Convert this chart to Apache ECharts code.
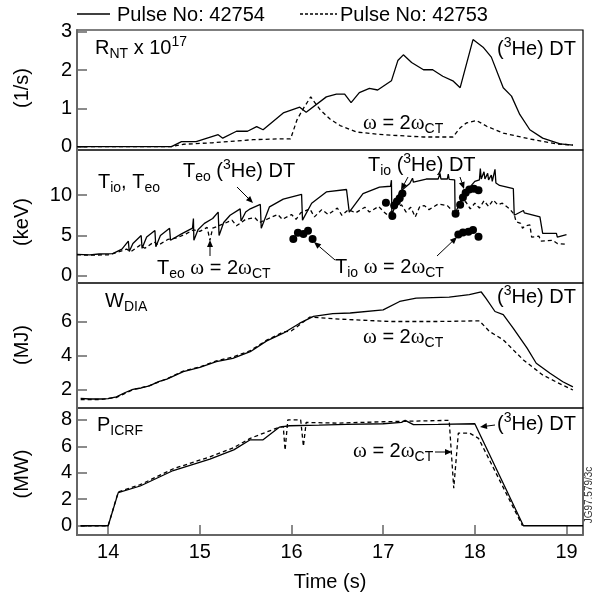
<!DOCTYPE html>
<html>
<head>
<meta charset="utf-8">
<script src="https://cdn.jsdelivr.net/npm/echarts@6/dist/echarts.min.js"></script>
<style>
  html, body { margin: 0; padding: 0; background: #fff; }
  #chart { width: 593px; height: 594px; }
</style>
</head>
<body>
<div id="chart"></div>
<script>
// time ticks (s)
var timeTicks = [14, 15, 16, 17, 18, 19];

// R_NT x 10^17 (1/s)
var rntT54 = [13.66, 14.69, 14.8, 14.96, 15.2, 15.25, 15.4, 15.52, 15.62, 15.69, 15.91, 16.09, 16.16, 16.38, 16.49, 16.58, 16.65, 16.74, 16.85, 16.94, 17.09, 17.16, 17.22, 17.31, 17.44, 17.54, 17.65, 17.76, 17.84, 17.98, 18.09, 18.18, 18.31, 18.4, 18.49, 18.6, 18.74, 18.93, 19.07];
var rnt54 = [0, 0, 0.13, 0.13, 0.31, 0.22, 0.4, 0.4, 0.52, 0.44, 0.88, 1.03, 0.9, 1.3, 1.37, 1.37, 1.15, 1.41, 1.52, 1.48, 1.72, 2.25, 2.4, 2.2, 2.01, 2.01, 1.84, 1.72, 1.54, 2.8, 2.6, 2.34, 1.54, 1.32, 0.84, 0.44, 0.22, 0.07, 0.04];
var rntT53 = [13.66, 14.69, 14.82, 15.14, 15.58, 15.84, 15.99, 16.06, 16.13, 16.21, 16.31, 16.42, 16.53, 16.71, 17.0, 17.44, 17.76, 17.84, 17.91, 18.02, 18.13, 18.31, 18.6, 18.89, 19.07];
var rnt53 = [0, 0, 0.06, 0.1, 0.18, 0.2, 0.2, 0.7, 1.0, 1.3, 0.97, 0.72, 0.55, 0.38, 0.31, 0.25, 0.25, 0.49, 0.62, 0.68, 0.53, 0.35, 0.2, 0.07, 0.04];

// T_eo (keV)
var teT54 = [13.66, 13.8, 13.9, 14.05, 14.15, 14.22, 14.23, 14.27, 14.36, 14.37, 14.42, 14.51, 14.52, 14.57, 14.67, 14.68, 14.8, 14.92, 14.93, 14.935, 14.98, 15.05, 15.14, 15.2, 15.21, 15.26, 15.33, 15.44, 15.45, 15.5, 15.55, 15.66, 15.67, 15.76, 15.91, 16.11, 16.12, 16.22, 16.38, 16.6, 16.63, 16.78, 16.96, 17.08, 17.09, 17.095, 17.18, 17.29, 17.31, 17.32, 17.33, 17.47, 17.6, 17.62, 17.63, 17.7, 17.71, 17.72, 17.78, 17.785, 17.87, 18.0, 18.05, 18.06, 18.07, 18.1, 18.11, 18.14, 18.15, 18.18, 18.19, 18.22, 18.23, 18.27, 18.42, 18.43, 18.53, 18.54, 18.71, 18.74, 18.89, 18.9, 19.0];
var te54 = [2.65, 2.6, 2.7, 2.75, 3.3, 4.3, 3.0, 4.0, 5.0, 3.4, 4.8, 5.6, 3.6, 5.0, 5.9, 4.4, 5.2, 5.9, 7.1, 4.4, 5.7, 6.5, 7.1, 7.9, 5.0, 6.6, 7.5, 8.3, 6.8, 7.9, 8.3, 8.85, 5.9, 8.55, 9.5, 10.1, 6.9, 9.0, 10.4, 10.7, 7.9, 10.2, 11.0, 11.1, 11.86, 7.5, 10.4, 11.45, 11.5, 12.1, 11.6, 12.0, 12.0, 12.7, 12.0, 12.0, 12.6, 11.95, 11.9, 7.7, 10.0, 11.7, 11.9, 13.3, 12.0, 12.9, 12.0, 12.7, 11.9, 12.5, 11.7, 13.2, 11.5, 11.2, 10.8, 7.5, 8.1, 7.8, 7.3, 5.25, 5.25, 4.8, 5.1];
var teT53 = [13.66, 13.8, 14.0, 14.1, 14.2, 14.25, 14.35, 14.4, 14.5, 14.55, 14.65, 14.75, 14.85, 14.93, 15.0, 15.08, 15.11, 15.14, 15.25, 15.35, 15.4, 15.5, 15.6, 15.65, 15.75, 15.85, 15.9, 16.0, 16.05, 16.1, 16.2, 16.25, 16.33, 16.4, 16.5, 16.55, 16.62, 16.7, 16.8, 16.85, 16.95, 17.0, 17.05, 17.12, 17.2, 17.25, 17.3, 17.35, 17.4, 17.45, 17.5, 17.6, 17.7, 17.76, 17.8, 17.85, 17.9, 17.95, 18.0, 18.05, 18.1, 18.15, 18.2, 18.25, 18.3, 18.38, 18.43, 18.45, 18.5, 18.52, 18.55, 18.6, 18.62, 18.7, 18.72, 18.85, 18.9, 19.0];
var te53 = [2.6, 2.55, 2.6, 2.9, 3.3, 3.0, 3.8, 3.4, 4.2, 3.8, 4.5, 4.7, 5.2, 5.7, 5.5, 6.0, 4.4, 5.9, 6.4, 6.9, 6.2, 7.0, 7.2, 6.6, 7.1, 7.6, 7.0, 7.6, 7.0, 7.8, 8.3, 7.3, 8.2, 7.6, 8.4, 7.5, 8.2, 7.8, 8.5, 7.9, 8.6, 8.0, 7.5, 8.4, 8.8, 7.9, 8.5, 7.3, 8.6, 8.7, 8.2, 8.9, 8.7, 8.0, 7.6, 8.8, 9.2, 8.3, 9.0, 8.4, 9.3, 8.6, 9.4, 8.8, 9.0, 8.3, 7.6, 6.7, 6.5, 5.9, 6.2, 6.3, 4.8, 4.9, 4.3, 4.4, 4.0, 3.9];

// T_io dots (keV)
var tiT54 = [17.03, 17.1, 17.12, 17.15, 17.18, 17.21, 17.79, 17.84, 17.87, 17.9, 17.94, 17.99, 18.04];
var ti54 = [9.05, 7.4, 8.7, 9.2, 9.6, 10.2, 7.7, 8.8, 9.7, 10.3, 10.7, 10.8, 10.6];
var tiT53 = [16.02, 16.07, 16.13, 16.18, 16.23, 17.82, 17.87, 17.93, 17.98, 18.04];
var ti53 = [4.55, 5.33, 5.17, 5.58, 4.55, 5.13, 5.38, 5.45, 5.66, 4.83];

// W_DIA (MJ)
var wT54 = [13.7, 13.8, 13.91, 14.0, 14.09, 14.18, 14.27, 14.36, 14.45, 14.55, 14.64, 14.82, 15.0, 15.18, 15.36, 15.55, 15.73, 15.91, 16.09, 16.24, 16.45, 16.64, 17.0, 17.18, 17.36, 17.72, 17.94, 18.07, 18.12, 18.22, 18.31, 18.42, 18.57, 18.67, 18.82, 18.96, 19.07];
var w54 = [1.47, 1.43, 1.43, 1.45, 1.56, 1.8, 2.0, 2.08, 2.2, 2.45, 2.6, 3.04, 3.3, 3.63, 3.83, 4.22, 4.86, 5.31, 5.9, 6.3, 6.46, 6.5, 6.69, 7.18, 7.38, 7.44, 7.58, 7.74, 7.38, 6.59, 6.4, 5.6, 4.43, 3.54, 2.95, 2.45, 2.15];
var wT53 = [13.7, 13.91, 14.09, 14.27, 14.45, 14.64, 14.82, 15.0, 15.18, 15.36, 15.55, 15.73, 15.91, 16.0, 16.2, 16.53, 17.07, 17.6, 18.05, 18.16, 18.31, 18.53, 18.74, 18.9, 19.07];
var w53 = [1.4, 1.4, 1.52, 1.98, 2.22, 2.62, 3.08, 3.32, 3.68, 3.9, 4.28, 4.9, 5.38, 5.45, 6.26, 6.14, 6.0, 6.0, 6.04, 5.41, 4.92, 3.73, 2.85, 2.4, 1.96];

// P_ICRF (MW)
var pT54 = [13.7, 14.0, 14.11, 14.35, 14.71, 15.11, 15.37, 15.55, 15.69, 15.87, 15.98, 16.3, 16.6, 17.0, 17.2, 17.24, 17.33, 17.6, 18.0, 18.53, 19.18];
var p54 = [0, 0, 2.5, 3.0, 4.17, 5.03, 5.73, 6.49, 6.49, 7.45, 7.55, 7.6, 7.65, 7.7, 7.8, 7.96, 7.63, 7.65, 7.7, 0, 0];
var pT53 = [13.7, 14.0, 14.11, 14.35, 14.71, 15.11, 15.37, 15.55, 15.85, 15.91, 15.93, 15.96, 16.1, 16.13, 16.16, 16.5, 17.0, 17.72, 17.77, 17.82, 17.94, 18.04, 18.52];
var p53 = [0, 0, 2.55, 3.1, 4.3, 5.2, 5.9, 6.6, 7.4, 7.5, 5.7, 8.0, 8.0, 6.0, 7.8, 7.75, 7.85, 7.96, 2.83, 7.0, 7.0, 6.6, 0];

var FONT = '"Liberation Sans", Arial, sans-serif';
var SERIF = '"Liberation Serif", "Times New Roman", serif';

function pts(ts, vs) {
  return ts.map(function (t, i) { return [t, vs[i]]; });
}

// measure text so sub/superscripts can be placed after the main text
var ctx = document.createElement('canvas').getContext('2d');
function tw(s, size, fam) {
  ctx.font = size + 'px ' + fam;
  return ctx.measureText(s).width;
}
// parts: [text, kind]  kind: '' | 'sub' | 'sup' | 'w' (omega, serif)
function label(x, y, parts, base) {
  base = base || 20;
  var out = [];
  var cx = x;
  parts.forEach(function (p) {
    var kind = p[1] || '';
    var size = (kind === 'sub' || kind === 'sup') ? Math.round(base * 0.7) : base;
    var fam = kind === 'w' ? SERIF : FONT;
    if (kind === 'w') size = base + 1;
    var dy = kind === 'sub' ? 6 : (kind === 'sup' ? -6 : 0);
    out.push({
      type: 'text', x: cx, y: y + dy, silent: true,
      style: { text: p[0], fontSize: size, fontFamily: fam, fill: '#000',
        textAlign: 'left', align: 'left', textVerticalAlign: 'middle', verticalAlign: 'middle' }
    });
    cx += tw(p[0], size, fam);
  });
  return out;
}

function arrow(x1, y1, x2, y2) {
  var a = Math.atan2(y2 - y1, x2 - x1);
  var L = 7, W = 3;
  var bx = x2 - L * Math.cos(a), by = y2 - L * Math.sin(a);
  var px = -Math.sin(a) * W, py = Math.cos(a) * W;
  return [
    { type: 'line', silent: true, shape: { x1: x1, y1: y1, x2: bx, y2: by }, style: { stroke: '#000', lineWidth: 1 } },
    { type: 'polygon', silent: true, shape: { points: [[x2, y2], [bx + px, by + py], [bx - px, by - py]] }, style: { fill: '#000' } }
  ];
}

var omega = [['ω', 'w'], [' = 2'], ['ω', 'w'], ['CT', 'sub']];
var he3 = [['('], ['3', 'sup'], ['He) DT']];

var grids = [
  { top: 30, height: 120 },
  { top: 150, height: 133 },
  { top: 283, height: 125 },
  { top: 408, height: 127 }
];
var yRanges = [[-0.09, 3.05], [-0.9, 15.6], [0.9, 8.27], [-0.7, 8.89]];
var yTicks = [[0, 1, 2, 3], [0, 5, 10], [2, 4, 6], [0, 2, 4, 6, 8]];
var yNames = ['(1/s)', '(keV)', '(MJ)', '(MW)'];

var option = {
  animation: false,
  backgroundColor: '#fff',
  grid: grids.map(function (g) {
    return { left: 77, right: 10, top: g.top, height: g.height, show: true, borderColor: '#000', borderWidth: 1.2, containLabel: false };
  }),
  xAxis: grids.map(function (g, i) {
    var last = i === 3;
    return {
      type: 'value', gridIndex: i, min: 13.66, max: 19.18,
      splitLine: { show: false },
      axisLine: { show: last, onZero: false, lineStyle: { color: '#666', width: 2 } },
      axisTick: { show: last, inside: true, length: 10, customValues: timeTicks, lineStyle: { color: '#666', width: 1.5 } },
      axisLabel: { show: last, customValues: timeTicks, margin: 7, fontSize: 20, fontFamily: FONT, color: '#000' },
      name: last ? 'Time (s)' : '', nameLocation: 'middle', nameGap: 37,
      nameTextStyle: { fontSize: 20, fontFamily: FONT, color: '#000' }
    };
  }),
  yAxis: grids.map(function (g, i) {
    return {
      type: 'value', gridIndex: i, min: yRanges[i][0], max: yRanges[i][1],
      splitLine: { show: false },
      axisLine: { show: true, onZero: false, lineStyle: { color: '#666', width: 2 } },
      axisTick: { show: true, inside: true, length: 10, customValues: yTicks[i], lineStyle: { color: '#666', width: 1.5 } },
      axisLabel: { customValues: yTicks[i], margin: 5, fontSize: 20, fontFamily: FONT, color: '#000' }
    };
  }),
  series: [
    { type: 'line', xAxisIndex: 0, yAxisIndex: 0, data: pts(rntT54, rnt54), symbol: 'none', lineStyle: { color: '#000', width: 1.3 } },
    { type: 'line', xAxisIndex: 0, yAxisIndex: 0, data: pts(rntT53, rnt53), symbol: 'none', lineStyle: { color: '#000', width: 1.3, type: [4, 3] } },
    { type: 'line', xAxisIndex: 1, yAxisIndex: 1, data: pts(teT54, te54), symbol: 'none', lineStyle: { color: '#000', width: 1.3 } },
    { type: 'line', xAxisIndex: 1, yAxisIndex: 1, data: pts(teT53, te53), symbol: 'none', lineStyle: { color: '#000', width: 1.3, type: [4, 3] } },
    { type: 'scatter', xAxisIndex: 1, yAxisIndex: 1, data: pts(tiT54, ti54), symbolSize: 8, itemStyle: { color: '#000', opacity: 1 } },
    { type: 'scatter', xAxisIndex: 1, yAxisIndex: 1, data: pts(tiT53, ti53), symbolSize: 8, itemStyle: { color: '#000', opacity: 1 } },
    { type: 'line', xAxisIndex: 2, yAxisIndex: 2, data: pts(wT54, w54), symbol: 'none', lineStyle: { color: '#000', width: 1.3 } },
    { type: 'line', xAxisIndex: 2, yAxisIndex: 2, data: pts(wT53, w53), symbol: 'none', lineStyle: { color: '#000', width: 1.3, type: [4, 3] } },
    { type: 'line', xAxisIndex: 3, yAxisIndex: 3, data: pts(pT54, p54), symbol: 'none', lineStyle: { color: '#000', width: 1.3 } },
    { type: 'line', xAxisIndex: 3, yAxisIndex: 3, data: pts(pT53, p53), symbol: 'none', lineStyle: { color: '#000', width: 1.3, type: [4, 3] } }
  ],
  graphic: []
};

var g = [];
// legend
g.push({ type: 'line', shape: { x1: 77, y1: 14, x2: 110, y2: 14 }, style: { stroke: '#000', lineWidth: 1.3 } });
g = g.concat(label(117, 15, [['Pulse No: 42754']], 20));
g.push({ type: 'line', shape: { x1: 300, y1: 14, x2: 337, y2: 14 }, style: { stroke: '#000', lineWidth: 1.3, lineDash: [3, 2] } });
g = g.concat(label(340, 15, [['Pulse No: 42753']], 20));
// y axis names
var nameY = [88, 222, 345, 474];
yNames.forEach(function (n, i) {
  g.push({ type: 'text', x: 22, y: nameY[i], rotation: Math.PI / 2,
    style: { text: n, fontSize: 20, fontFamily: FONT, fill: '#000', textAlign: 'center', align: 'center', textVerticalAlign: 'middle', verticalAlign: 'middle' } });
});
// panel 1
g = g.concat(label(95, 48, [['R'], ['NT', 'sub'], [' x 10'], ['17', 'sup']]));
g = g.concat(label(497, 49, he3));
g = g.concat(label(363, 123, omega));
// panel 2
g = g.concat(label(98, 182, [['T'], ['io', 'sub'], [', T'], ['eo', 'sub']]));
g = g.concat(label(183, 171, [['T'], ['eo', 'sub'], [' ']].concat(he3)));
g = g.concat(label(368, 165, [['T'], ['io', 'sub'], [' ']].concat(he3)));
g = g.concat(label(157, 268, [['T'], ['eo', 'sub'], [' ']].concat(omega)));
g = g.concat(label(335, 267, [['T'], ['io', 'sub'], [' ']].concat(omega)));
g = g.concat(arrow(237, 187, 253, 203));
g = g.concat(arrow(210, 256, 210, 240));
g = g.concat(arrow(408, 177, 401, 190));
g = g.concat(arrow(460, 177, 464, 189));
g = g.concat(arrow(335, 260, 314, 242));
g = g.concat(arrow(437, 256, 457, 237));
// panel 3
g = g.concat(label(105, 301, [['W'], ['DIA', 'sub']]));
g = g.concat(label(497, 297, he3));
g = g.concat(label(363, 337, omega));
// panel 4
g = g.concat(label(97, 425, [['P'], ['ICRF', 'sub']]));
g = g.concat(label(497, 424, he3));
g = g.concat(label(353, 451, omega));
g = g.concat(arrow(495, 425, 480, 427));
g = g.concat(arrow(435, 452, 452, 452));
// figure id
g.push({ type: 'text', x: 589, y: 495, rotation: Math.PI / 2,
  style: { text: 'JG97.579/3c', fontSize: 10, fontFamily: FONT, fill: '#333', textAlign: 'center', align: 'center', textVerticalAlign: 'middle', verticalAlign: 'middle' } });

option.graphic = g;

var chart = echarts.init(document.getElementById('chart'));
chart.setOption(option);
</script>
</body>
</html>
